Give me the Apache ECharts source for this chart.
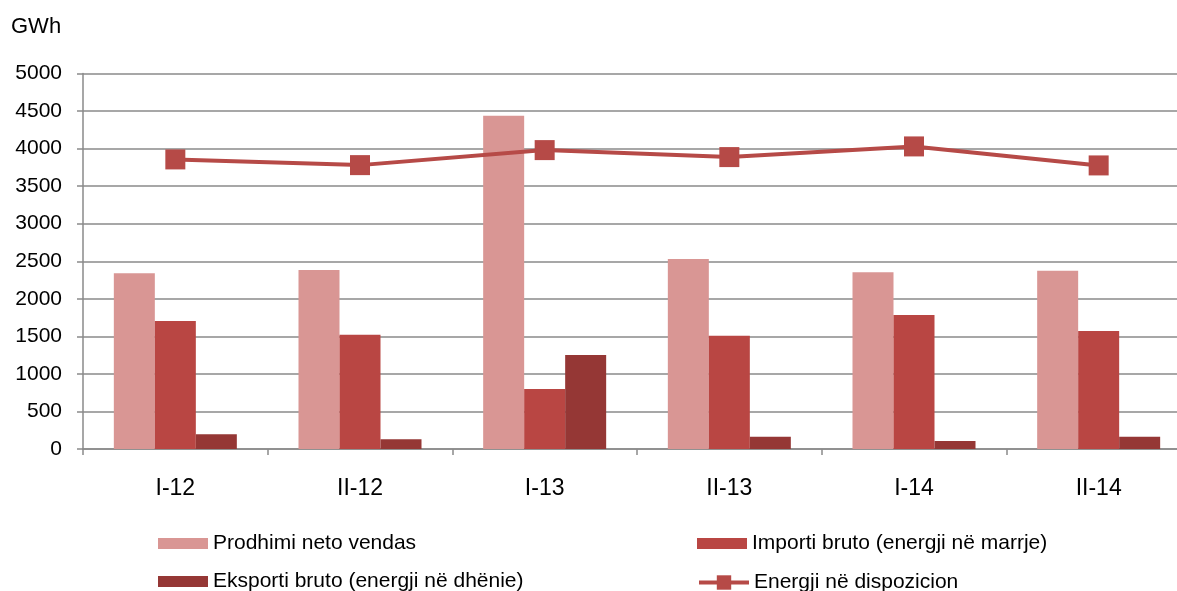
<!DOCTYPE html>
<html>
<head>
<meta charset="utf-8">
<script src="https://cdn.jsdelivr.net/npm/echarts@6/dist/echarts.min.js"></script>
<style>
html,body{margin:0;padding:0;background:#fff;}
#chart{width:1177px;height:591px;}
</style>
</head>
<body>
<div id="chart"></div>
<script>
var categories = ['I-12', 'II-12', 'I-13', 'II-13', 'I-14', 'II-14'];
var prodhimi = [2339, 2383, 4436, 2529, 2352, 2373];
var importi = [1704, 1521, 799, 1508, 1784, 1571];
var eksporti = [196, 129, 1251, 164, 106, 164];
var energji = [3856, 3780, 3980, 3887, 4029, 3776];
var seriesNames = ['Prodhimi neto vendas', 'Importi bruto (energji në marrje)', 'Eksporti bruto (energji në dhënie)', 'Energji në dispozicion'];
var yTicks = [0, 500, 1000, 1500, 2000, 2500, 3000, 3500, 4000, 4500, 5000];

var FONT = '"Liberation Sans", Arial, sans-serif';
var chart = echarts.init(document.getElementById('chart'), null, {renderer: 'canvas'});

function legendAt(name, left, top, extra) {
  var l = {
    data: [name],
    left: left,
    top: top,
    orient: 'horizontal',
    icon: 'rect',
    itemWidth: 50,
    itemHeight: 11,
    itemGap: 0,
    padding: 0,
    textStyle: {fontFamily: FONT, fontSize: 21, color: '#000', padding: [0, 0, 0, 0]}
  };
  if (extra) { for (var k in extra) l[k] = extra[k]; }
  return l;
}

var option = {
  backgroundColor: '#ffffff',
  animation: false,
  title: {
    text: 'GWh',
    left: 6,
    top: 11,
    textStyle: {fontFamily: FONT, fontSize: 22, fontWeight: 'normal', color: '#000'}
  },
  legend: [
    legendAt(seriesNames[0], 158, 533),
    legendAt(seriesNames[1], 697, 533),
    legendAt(seriesNames[2], 158, 571),
    legendAt(seriesNames[3], 697, 572, {
      icon: undefined, itemHeight: 18,
      lineStyle: {width: 4, color: '#B64A47'},
      itemStyle: {color: '#B64A47'}
    })
  ],
  grid: {left: 83, top: 73.5, width: 1108, height: 375.5, outerBoundsMode: 'none', containLabel: false},
  xAxis: {
    type: 'category',
    data: categories,
    boundaryGap: true,
    axisLine: {show: true, lineStyle: {color: '#8a8a8a', width: 1.5}},
    axisTick: {show: true, length: 6, lineStyle: {color: '#8a8a8a', width: 1.5}},
    axisLabel: {fontFamily: FONT, fontSize: 23, color: '#000', margin: 28}
  },
  yAxis: {
    type: 'value',
    min: 0,
    max: 5000,
    interval: 500,
    axisLine: {show: true, lineStyle: {color: '#8a8a8a', width: 1.5}},
    axisTick: {show: true, length: 6, lineStyle: {color: '#8a8a8a', width: 1.5}},
    axisLabel: {
      fontFamily: FONT, fontSize: 21, color: '#000', margin: 21,
      formatter: function (v) { return yTicks.indexOf(v) >= 0 ? String(v) : ''; }
    },
    splitLine: {show: true, lineStyle: {color: '#8a8a8a', width: 1.5}}
  },
  series: [
    {
      name: seriesNames[0], type: 'bar', data: prodhimi,
      barWidth: 41, barGap: '0%',
      itemStyle: {color: '#D99694'}
    },
    {
      name: seriesNames[1], type: 'bar', data: importi,
      barWidth: 41, barGap: '0%',
      itemStyle: {color: '#B94643'}
    },
    {
      name: seriesNames[2], type: 'bar', data: eksporti,
      barWidth: 41, barGap: '0%',
      itemStyle: {color: '#953735'}
    },
    {
      name: seriesNames[3], type: 'line', data: energji,
      symbol: 'rect', symbolSize: 20,
      lineStyle: {color: '#B64A47', width: 4},
      itemStyle: {color: '#B64A47'},
      z: 5
    }
  ]
};
chart.setOption(option);
</script>
</body>
</html>
